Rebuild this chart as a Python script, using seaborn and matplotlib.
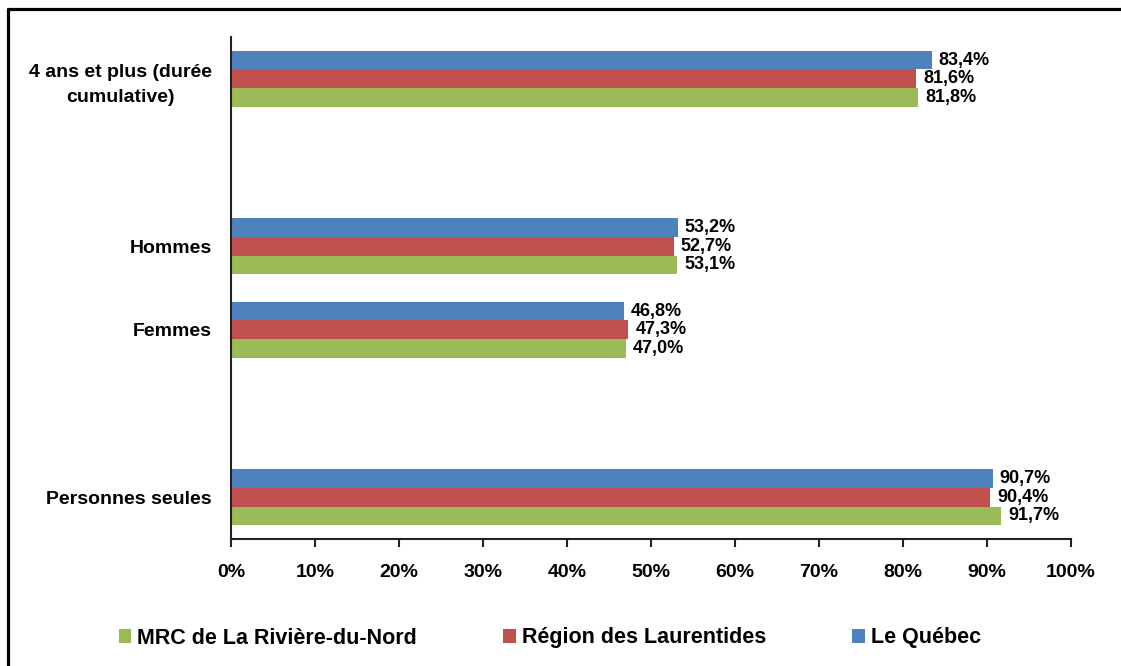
import matplotlib
matplotlib.use("Agg")
import matplotlib.pyplot as plt
from matplotlib.patches import Patch
from matplotlib.lines import Line2D
import seaborn as sns
import pandas as pd

# Categories (top to bottom) and the empty slots that separate the groups
categories = ["4 ans et plus (durée\ncumulative)", "Hommes", "Femmes", "Personnes seules"]
slot_order = [categories[0], " ", categories[1], categories[2], "  ", categories[3]]

series = ["MRC de La Rivière-du-Nord", "Région des Laurentides", "Le Québec"]
mrc = [81.8, 53.1, 47.0, 91.7]
region = [81.6, 52.7, 47.3, 90.4]
quebec = [83.4, 53.2, 46.8, 90.7]
colors = {"MRC de La Rivière-du-Nord": "#9BBB59",
          "Région des Laurentides": "#C0504D",
          "Le Québec": "#4F81BD"}

xticks = list(range(0, 101, 10))
xtick_labels = [f"{t}%" for t in xticks]

rows = []
for name, vals in zip(series, [mrc, region, quebec]):
    for cat, v in zip(categories, vals):
        rows.append({"cat": cat, "val": v, "serie": name})
df = pd.DataFrame(rows)

sns.set_style("white")
plt.rcParams["font.family"] = ["Liberation Sans", "DejaVu Sans"]
plt.rcParams["font.weight"] = "bold"
plt.rcParams["text.color"] = "black"
plt.rcParams["xtick.color"] = "black"
plt.rcParams["ytick.color"] = "black"

W, H = 1121, 666
fig = plt.figure(figsize=(W / 100, H / 100), dpi=100)
ax = fig.add_axes([231 / W, 1 - 539 / H, 840 / W, 502 / H])

sns.barplot(data=df, y="cat", x="val", hue="serie", order=slot_order,
            hue_order=series[::-1], palette=colors, width=0.67, saturation=1,
            linewidth=0, orient="h", ax=ax, legend=False)

for cont in ax.containers:
    ax.bar_label(cont, labels=[f"{v:.1f}%".replace(".", ",") for v in cont.datavalues],
                 padding=5, fontsize=13, fontweight="bold", color="black")

ax.set_xlim(0, 100)
ax.set_xticks(xticks)
ax.set_xticklabels(xtick_labels, fontsize=14, fontweight="bold")
ax.set_xlabel("")
ax.set_ylabel("")
for lab in ax.get_yticklabels():
    lab.set_fontsize(14)
    lab.set_fontweight("bold")
    lab.set_multialignment("center")
    lab.set_linespacing(1.6)
ax.tick_params(axis="x", bottom=True, direction="out", length=6, width=1.5,
               color="#222222", pad=12)
ax.tick_params(axis="y", left=False, length=0, pad=14)
for s in ["top", "right"]:
    ax.spines[s].set_visible(False)
for s in ["left", "bottom"]:
    ax.spines[s].set_color("#222222")
    ax.spines[s].set_linewidth(1.5)
ax.grid(False)

handles = [Patch(facecolor=colors[s], edgecolor="none") for s in series]
fig.legend(handles, series, loc="center", bbox_to_anchor=(550 / W, 1 - 638 / H),
           ncol=3, frameon=False, handlelength=0.57, handleheight=0.57,
           handletextpad=0.3, columnspacing=4.0,
           prop={"weight": "bold", "size": 15.5})

# Outer frame (top and left edges)
fig.add_artist(Line2D([8 / W, 1], [1 - 9 / H, 1 - 9 / H], transform=fig.transFigure,
                      color="black", linewidth=2.3))
fig.add_artist(Line2D([8 / W, 8 / W], [0, 1 - 9 / H], transform=fig.transFigure,
                      color="black", linewidth=2.3))

fig.savefig("out.png", dpi=100)
